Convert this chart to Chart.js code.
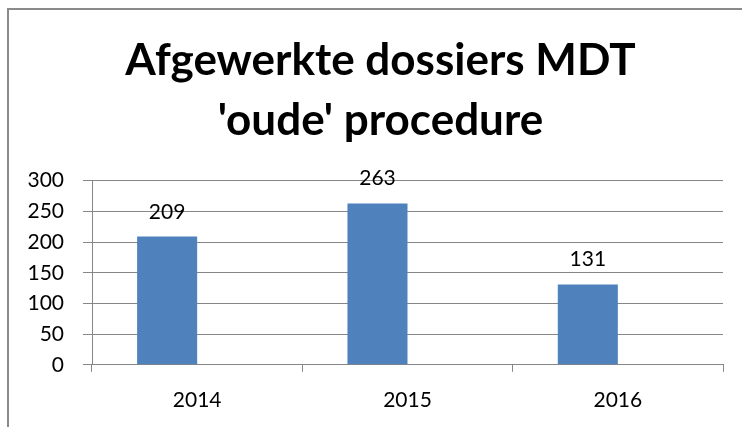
<!DOCTYPE html>
<html>
<head>
<meta charset="utf-8">
<script src="https://cdn.jsdelivr.net/npm/chart.js@4"></script>
<style>
  html, body { margin: 0; padding: 0; background: #fff; overflow: hidden; }
  #wrap { position: relative; width: 742px; height: 427px; overflow: hidden; }
  #frame { position: absolute; left: 7px; top: 8px; right: -5px; bottom: -5px;
           border-left: 2px solid #8a8a8a; border-top: 2px solid #8a8a8a; pointer-events: none; }
</style>
</head>
<body>
<div id="wrap">
  <canvas id="chart" width="761" height="427"></canvas>
  <div id="frame"></div>
</div>
<script>
const years = ['2014', '2015', '2016'];
const afgewerkt = [209, 263, 131];
const leeg = [null, null, null];
const yTicks = [0, 50, 100, 150, 200, 250, 300];

const valueLabels = {
    id: 'valueLabels',
    afterDatasetsDraw(chart) {
        let ctx = chart.ctx;
        let meta = chart.getDatasetMeta(0);
        ctx.save();
        ctx.font = '21px Lato';
        ctx.fillStyle = '#000';
        ctx.textAlign = 'center';
        ctx.textBaseline = 'alphabetic';
        meta.data.forEach(function (bar, i) {
            ctx.fillText(String(afgewerkt[i]), bar.x, bar.y - 18);
        });
        ctx.restore();
    }
};

let ctx = document.getElementById('chart').getContext('2d');
let chart = new Chart(ctx, {
    type: 'bar',
    data: {
        labels: years,
        datasets: [{
            data: afgewerkt,
            backgroundColor: '#4F81BD',
            categoryPercentage: 0.571,
            barPercentage: 1
        }, {
            data: leeg,
            backgroundColor: '#C0504D',
            categoryPercentage: 0.571,
            barPercentage: 1
        }]
    },
    options: {
        responsive: false,
        animation: false,
        layout: { padding: { left: 0, right: 0, top: 0, bottom: -2 } },
        plugins: {
            legend: { display: false },
            tooltip: { enabled: false },
            title: {
                display: true,
                text: ['Afgewerkte dossiers MDT', "'oude' procedure"],
                color: '#000',
                font: { family: 'Lato', size: 44, weight: 'bold', lineHeight: 1.36 },
                padding: { top: 31, bottom: 30 }
            }
        },
        scales: {
            x: {
                grid: { display: true, drawOnChartArea: false, drawTicks: true, tickLength: 7, color: '#868686', offset: true },
                border: { color: '#868686' },
                ticks: { color: '#000', font: { family: 'Lato', size: 21 }, padding: 16 }
            },
            y: {
                min: 0,
                max: 300,
                afterBuildTicks(scale) { scale.ticks = yTicks.map(v => ({ value: v })); },
                afterFit(scale) { scale.width = 92; },
                grid: { color: '#868686', tickLength: 9 },
                border: { color: '#868686' },
                ticks: { color: '#000', font: { family: 'Lato', size: 21 }, padding: 19 }
            },
            // empty right-hand space so the title centres like the original
            yRight: {
                position: 'right',
                afterFit(scale) { scale.width = 38; },
                grid: { display: false },
                border: { display: false },
                ticks: { display: false }
            }
        }
    },
    plugins: [valueLabels]
});
</script>
</body>
</html>
